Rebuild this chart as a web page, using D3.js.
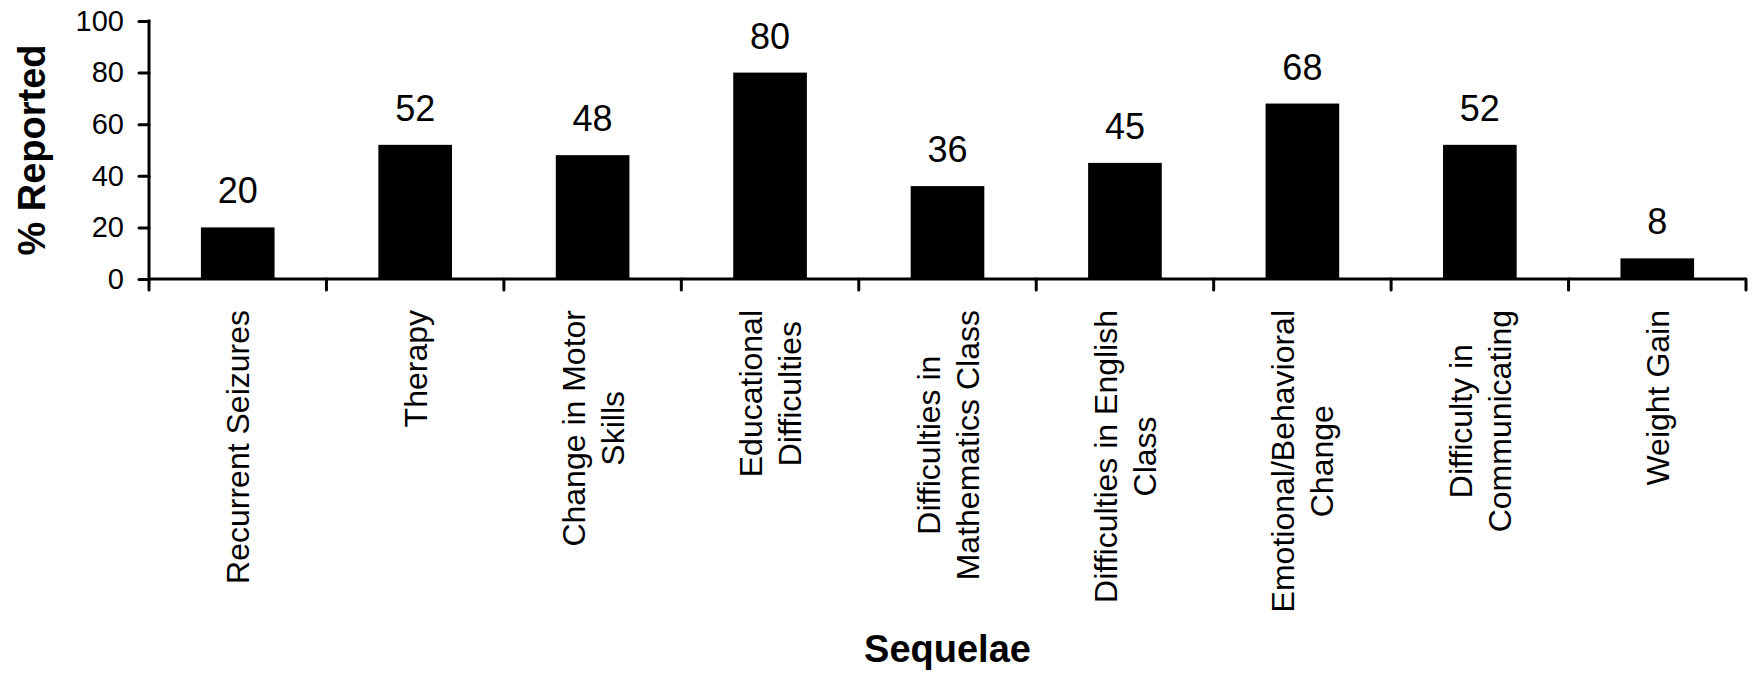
<!DOCTYPE html>
<html>
<head>
<meta charset="utf-8">
<script src="https://cdn.jsdelivr.net/npm/d3@7"></script>
<style>
  html, body { margin: 0; padding: 0; background: #ffffff; }
  svg { display: block; }
  text { font-family: "Liberation Sans", Arial, Helvetica, sans-serif; fill: #000; }
</style>
</head>
<body>
<svg id="chart" width="1752" height="677"></svg>
<script>
// Sequelae reported, one bar per category
const categoryLines = [
  ["Recurrent Seizures"],
  ["Therapy"],
  ["Change in Motor", "Skills"],
  ["Educational", "Difficulties"],
  ["Difficulties in", "Mathematics Class"],
  ["Difficulties in English", "Class"],
  ["Emotional/Behavioral", "Change"],
  ["Difficulty in", "Communicating"],
  ["Weight Gain"]
];
const categories = categoryLines.map(l => l.join(" "));
const values = [20, 52, 48, 80, 36, 45, 68, 52, 8];
const yTicks = [0, 20, 40, 60, 80, 100];
const yTitle = "% Reported";
const xTitle = "Sequelae";

const svg = d3.select("#chart");

const plot = { left: 149, right: 1746, top: 21, bottom: 279 };

const x = d3.scaleBand()
  .domain(categories)
  .range([plot.left, plot.right])
  .paddingInner(0.585)
  .paddingOuter(0.2925);

const y = d3.scaleLinear()
  .domain([0, 100])
  .range([plot.bottom, plot.top]);

// bars
svg.append("g")
  .selectAll("rect")
  .data(values)
  .join("rect")
  .attr("x", (d, i) => x(categories[i]))
  .attr("y", d => y(d))
  .attr("width", x.bandwidth())
  .attr("height", d => y(0) - y(d))
  .attr("fill", "#000");

// value labels above bars
svg.append("g")
  .selectAll("text")
  .data(values)
  .join("text")
  .attr("x", (d, i) => x(categories[i]) + x.bandwidth() / 2)
  .attr("y", d => y(d) - 24)
  .attr("text-anchor", "middle")
  .style("font-size", "36px")
  .text(d => d);

// y axis
const yAxis = d3.axisLeft(y)
  .tickValues(yTicks)
  .tickSize(10)
  .tickPadding(15)
  .tickFormat(d3.format("d"));

const gy = svg.append("g")
  .attr("transform", `translate(${plot.left},0)`)
  .call(yAxis);
gy.select(".domain").remove();
gy.selectAll(".tick line")
  .attr("stroke", "#000")
  .attr("stroke-width", 3)
  .attr("stroke-linecap", "round");
gy.selectAll(".tick text")
  .style("font-size", "29px")
  .attr("fill", "#000");
gy.append("line")
  .attr("x1", 0).attr("x2", 0)
  .attr("y1", y(100) - 1.5).attr("y2", y(0) + 1.5)
  .attr("stroke", "#000")
  .attr("stroke-width", 3);

// x axis: baseline and ticks between categories
const gx = svg.append("g");
gx.append("line")
  .attr("x1", plot.left).attr("x2", plot.right)
  .attr("y1", y(0)).attr("y2", y(0))
  .attr("stroke", "#000")
  .attr("stroke-width", 3);

const boundaries = d3.range(categories.length + 1)
  .map(i => plot.left + i * x.step());
gx.selectAll("line.tick")
  .data(boundaries)
  .join("line")
  .attr("class", "tick")
  .attr("x1", d => d).attr("x2", d => d)
  .attr("y1", y(0)).attr("y2", y(0) + 11)
  .attr("stroke", "#000")
  .attr("stroke-width", 3)
  .attr("stroke-linecap", "round");

// rotated category labels, lines centred on each other, top-aligned block
const labelSize = 32;
const lineStep = 39;
const labelTop = 310;
const labels = svg.append("g")
  .selectAll("g")
  .data(categoryLines)
  .join("g")
  .attr("transform", (d, i) =>
    `translate(${x(categories[i]) + x.bandwidth() / 2},${labelTop}) rotate(-90)`);

labels.each(function (lines) {
  const g = d3.select(this);
  const texts = lines.map((line, j) =>
    g.append("text")
      .style("font-size", labelSize + "px")
      .attr("text-anchor", "middle")
      .attr("y", (j - (lines.length - 1) / 2) * lineStep)
      .attr("dy", "0.36em")
      .text(line));
  const maxLen = d3.max(texts, t => t.node().getComputedTextLength());
  texts.forEach(t => t.attr("x", -maxLen / 2));
});

// axis titles
svg.append("text")
  .attr("transform", `translate(45,${(plot.top + plot.bottom) / 2}) rotate(-90)`)
  .attr("text-anchor", "middle")
  .style("font-size", "38px")
  .style("font-weight", "bold")
  .text(yTitle);

svg.append("text")
  .attr("x", (plot.left + plot.right) / 2)
  .attr("y", 662)
  .attr("text-anchor", "middle")
  .style("font-size", "38px")
  .style("font-weight", "bold")
  .text(xTitle);
</script>
</body>
</html>
